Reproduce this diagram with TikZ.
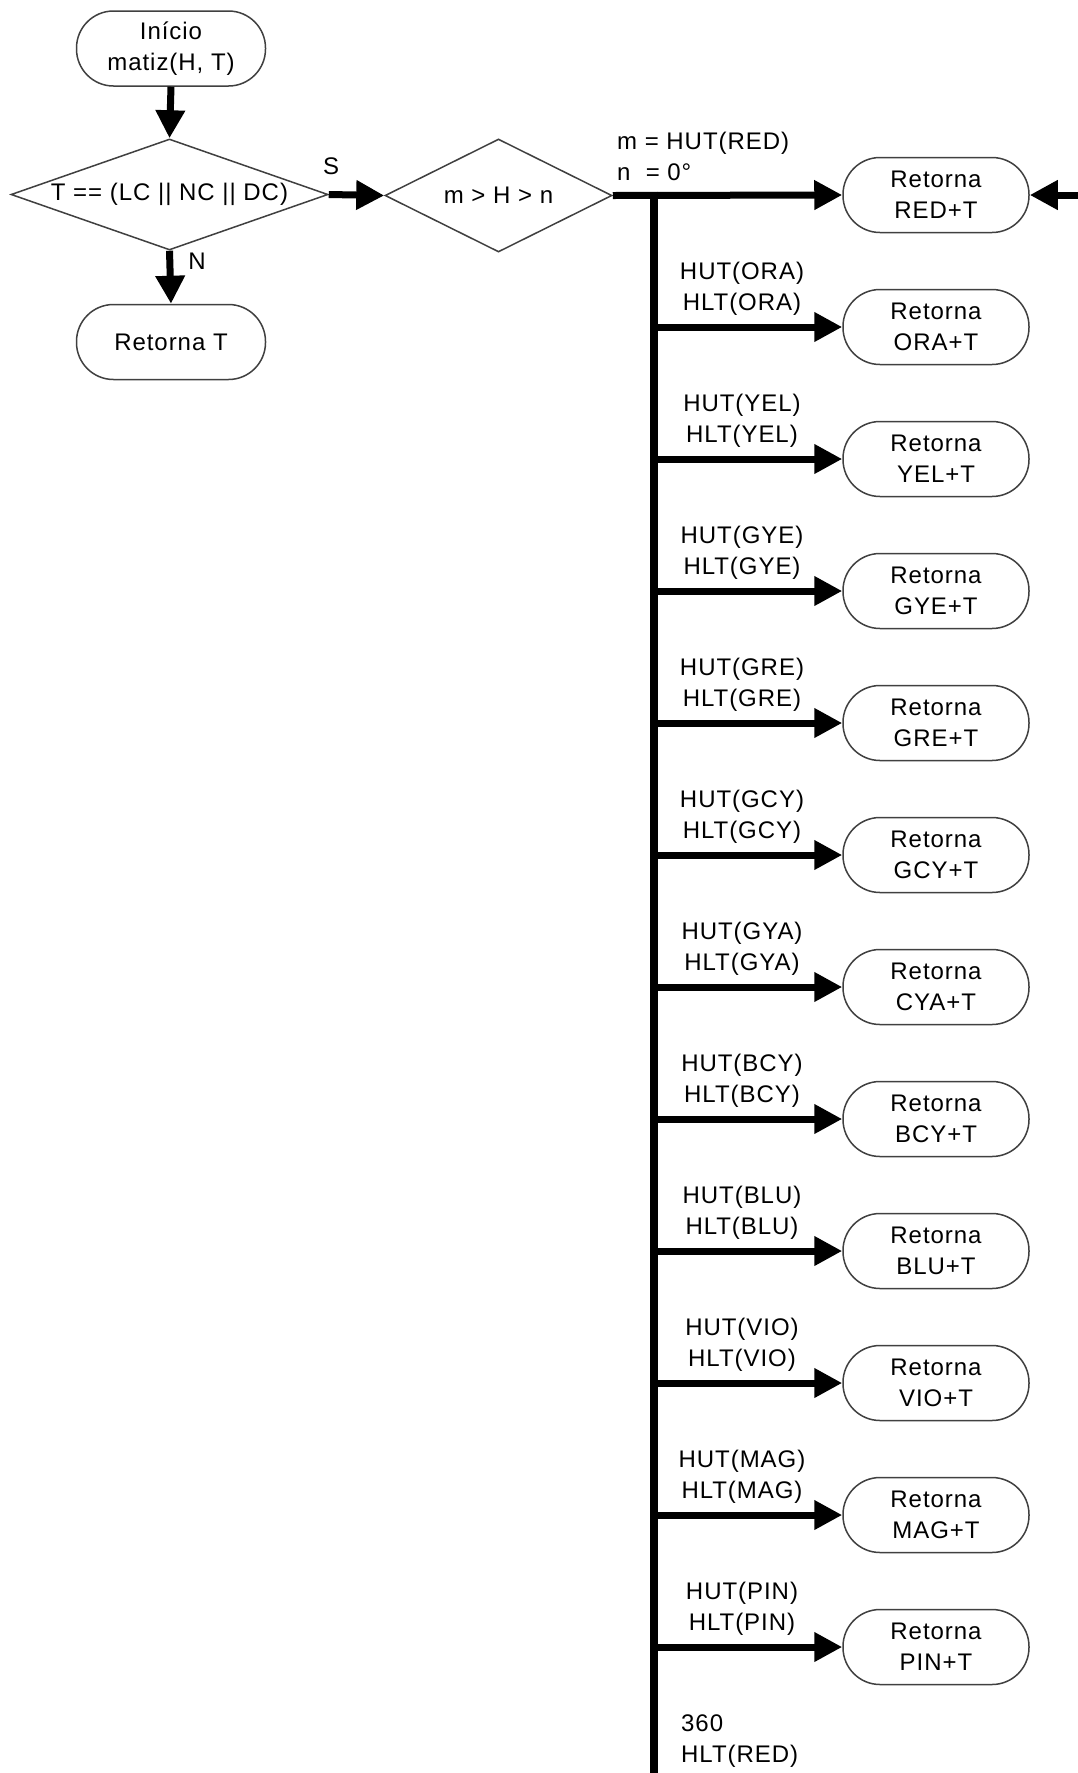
\documentclass[tikz,border=0pt]{standalone}
\usepackage{fontspec}
\setmainfont{Liberation Sans}[LetterSpace=4]
\usetikzlibrary{shapes.geometric,arrows.meta}
\begin{document}
\begin{tikzpicture}[x=1pt,y=-1pt,
  every node/.style={font=\fontsize{24}{31}\selectfont, text=black},
  term/.style={draw=black!75, line width=1.5pt, rectangle, rounded corners=37pt, minimum width=186pt, minimum height=75pt, align=center, inner sep=0pt},
  dia/.style={draw=black!75, line width=1.5pt, diamond, inner sep=0pt},
  arr/.style={line width=7pt, -{Triangle[length=28pt,width=28pt]}},
  bus/.style={line width=8pt},
  lbl/.style={align=center, inner sep=0pt},
]
\fill[white] (0,0) rectangle (1078,1773);
\useasboundingbox (0,0) rectangle (1078,1773);

% left part
\node[term, minimum width=189pt] (start) at (171,48.5) {Início\\matiz(H, T)};
\node[dia, minimum width=317pt, minimum height=111pt] (d1) at (169.5,194.5) {};
\node[inner sep=0pt] (d1t) at (d1) {T == (LC || NC || DC)};
\node[term, minimum width=189pt] (rt) at (171,342) {Retorna T};
\node[dia, minimum width=227pt, minimum height=113pt] (d2) at (498.5,195.5) {};
\node[inner sep=0pt] (d2t) at (d2) {m > H > n};

\draw[arr] (start.south) -- (d1.north);
\draw[arr] (d1.south) -- (rt.north);
\draw[arr] (d1.east) -- (d2.west);
\node[inner sep=0pt] (s) at (331,166) {S};
\node[inner sep=0pt] (n) at (197,261) {N};

% red box and main line
\node[term] (red) at (936,195) {Retorna\\RED+T};
\draw[arr] (d2.east) -- (red.west);
\node[lbl, anchor=west, align=left] (redlbl) at (617,156) {m = HUT(RED)\\n\ \ = 0°};
\coordinate (back) at (1078,195);
\draw[arr] (back) -- (red.east);

% bus
\coordinate (bustop) at (654,191.5);
\coordinate (busbot) at (654,1773);
\draw[bus] (bustop) -- (busbot);

\foreach \c/\r [count=\i] in {ORA/ORA, YEL/YEL, GYE/GYE, GRE/GRE, GCY/GCY, GYA/CYA, BCY/BCY, BLU/BLU, VIO/VIO, MAG/MAG, PIN/PIN} {
  \pgfmathsetmacro\yy{195+132*\i}
  \node[term] (box\i) at (936,\yy) {Retorna\\\r+T};
  \coordinate (br\i) at (654,\yy);
  \draw[arr] (br\i) -- (box\i.west);
  \node[lbl] (lb\i) at (742,\yy-38.5) {HUT(\c)\\HLT(\c)};
}

\node[lbl, anchor=west, align=left] (last) at (681,1741) {360\\HLT(RED)};
\end{tikzpicture}
\end{document}
